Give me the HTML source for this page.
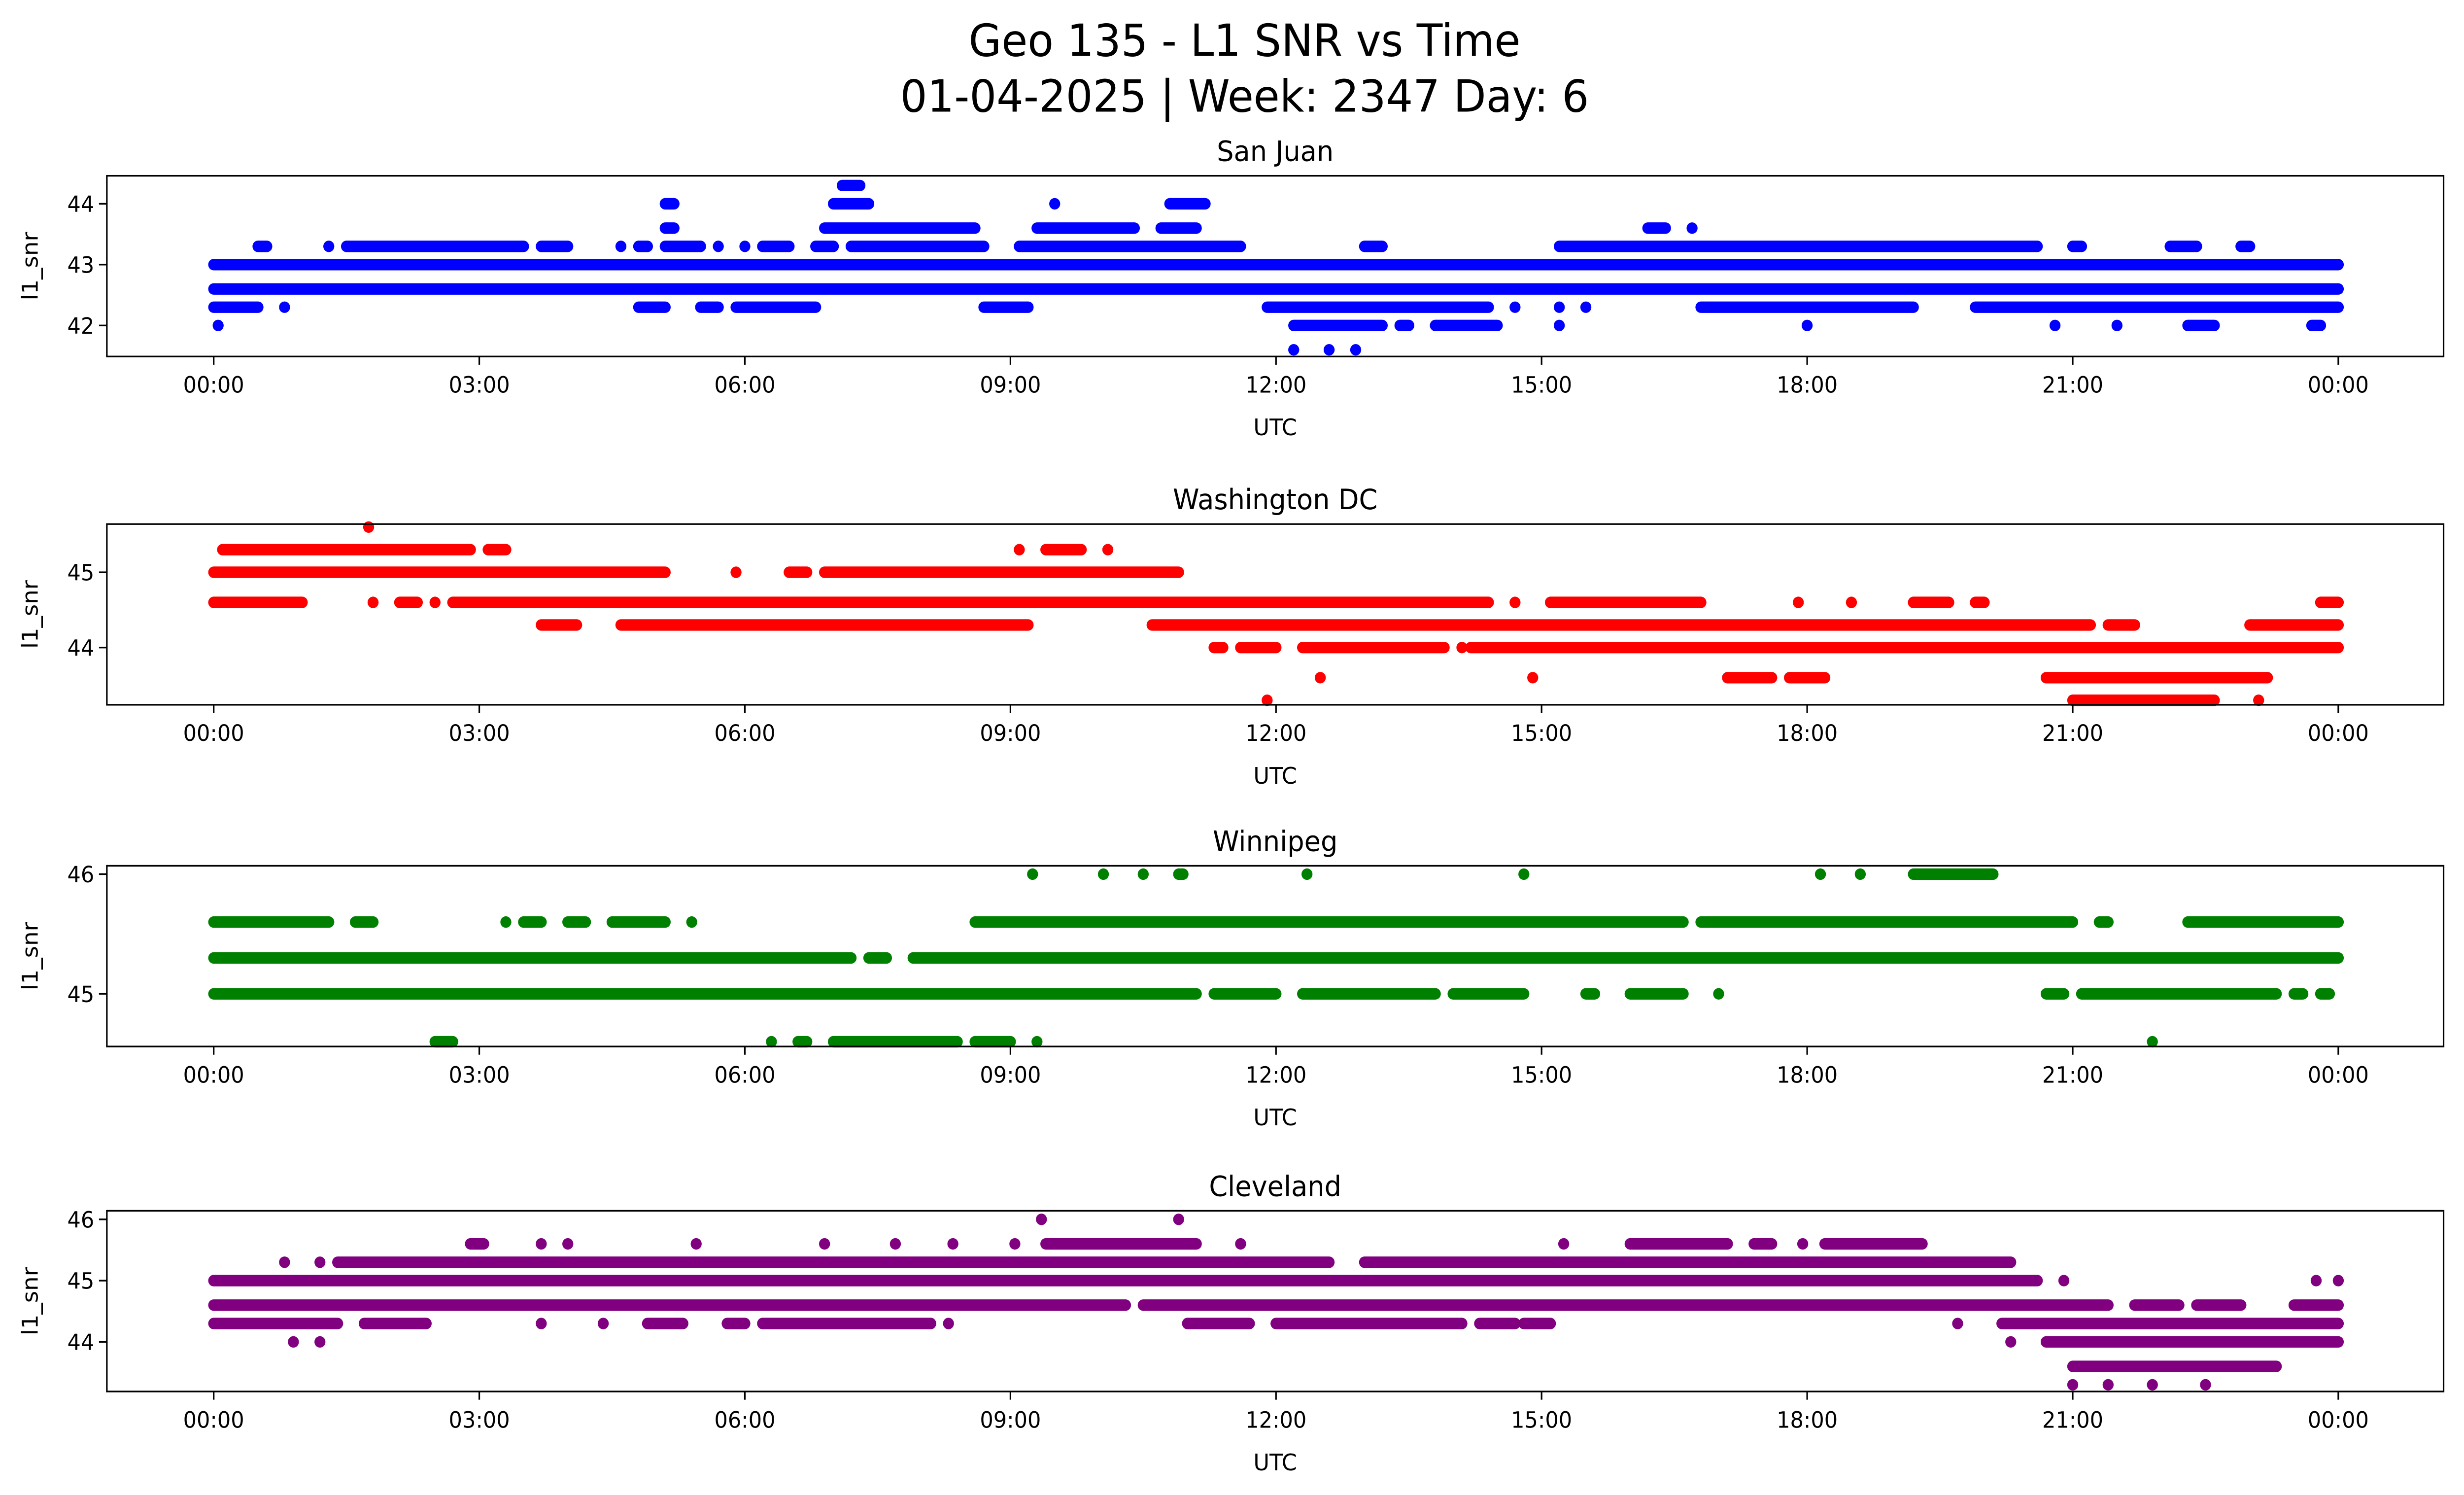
<!DOCTYPE html>
<html><head><meta charset="utf-8">
<style>
html,body{margin:0;padding:0;background:#fff;width:100%;height:100%;overflow:hidden;}
svg{display:block;position:absolute;left:0;top:0;width:100%;height:100%;font-family:"DejaVu Sans","Liberation Sans",sans-serif;}
</style></head>
<body>
<svg id="chart" viewBox="0 0 1568 910" preserveAspectRatio="none" xmlns="http://www.w3.org/2000/svg">
<rect width="1568" height="910" fill="#fff"/>
<text x="792" y="34" text-anchor="middle" font-size="27">Geo 135 - L1 SNR vs Time</text>
<text x="792" y="68" text-anchor="middle" font-size="27">01-04-2025 | Week: 2347 Day: 6</text>
<g id="panels"></g>
</svg>
<script>
// Data: runs of observations [snr, startHourUTC, endHourUTC]
const xTickLabels = ["00:00","03:00","06:00","09:00","12:00","15:00","18:00","21:00","00:00"];
const stations = ["San Juan","Washington DC","Winnipeg","Cleveland"];
const colors = ["#0000ff","#ff0000","#008000","#800080"];
const yTicks1 = [42,43,44];
const yTicks2 = [44,45];
const yTicks3 = [45,46];
const yTicks4 = [44,45,46];
const sanJuan = [
 [42.6,0,24],
 [42.3,0,0.5],[42.3,0.8,0.8],[42.3,4.8,5.1],[42.3,5.5,5.7],[42.3,5.9,6.8],[42.3,8.7,9.2],[42.3,11.9,14.4],[42.3,14.7,14.7],[42.3,15.2,15.2],[42.3,15.5,15.5],[42.3,16.8,19.2],[42.3,19.9,24],
 [42.0,0.05,0.05],[42.0,12.2,13.2],[42.0,13.4,13.5],[42.0,13.8,14.5],[42.0,15.2,15.2],[42.0,18.0,18.0],[42.0,20.8,20.8],[42.0,21.5,21.5],[42.0,22.3,22.6],[42.0,23.7,23.8],
 [41.6,12.2,12.2],[41.6,12.6,12.6],[41.6,12.9,12.9],
 [43.0,0,24],
 [43.3,0.5,0.6],[43.3,1.3,1.3],[43.3,1.5,3.5],[43.3,3.7,4.0],[43.3,4.6,4.6],[43.3,4.8,4.9],[43.3,5.1,5.5],[43.3,5.7,5.7],[43.3,6.0,6.0],[43.3,6.2,6.5],[43.3,6.8,7.0],[43.3,7.2,8.7],[43.3,9.1,11.6],[43.3,15.2,20.6],[43.3,21.0,21.1],[43.3,22.1,22.4],[43.3,22.9,23.0],[43.3,13.0,13.2],
 [43.6,5.1,5.2],[43.6,6.9,8.6],[43.6,9.3,10.4],[43.6,10.7,11.1],[43.6,16.2,16.4],[43.6,16.7,16.7],
 [44.0,5.1,5.2],[44.0,7.0,7.4],[44.0,9.5,9.5],[44.0,10.8,11.2],
 [44.3,7.1,7.3]
];
const washington = [
 [45.3,0.1,2.9],[45.3,3.1,3.3],[45.6,1.75,1.75],[45.3,9.1,9.1],[45.3,9.4,9.8],[45.3,10.1,10.1],
 [45.0,0,5.1],[45.0,5.9,5.9],[45.0,6.5,6.7],[45.0,6.9,10.9],
 [44.6,0,1.0],[44.6,1.8,1.8],[44.6,2.1,2.3],[44.6,2.5,2.5],[44.6,2.7,14.4],[44.6,14.7,14.7],[44.6,15.1,16.8],[44.6,17.9,17.9],[44.6,18.5,18.5],[44.6,19.2,19.6],[44.6,19.9,20.0],[44.6,23.8,24],
 [44.3,3.7,4.1],[44.3,4.6,9.2],[44.3,10.6,21.2],[44.3,21.4,21.7],[44.3,23.0,24],
 [44.0,11.3,11.4],[44.0,11.6,12.0],[44.0,12.3,13.9],[44.0,14.1,14.1],[44.0,14.2,24],
 [43.6,12.5,12.5],[43.6,14.9,14.9],[43.6,17.1,17.6],[43.6,17.8,18.2],[43.6,20.7,23.2],
 [43.3,11.9,11.9],[43.3,21.0,22.6],[43.3,23.1,23.1]
];
const winnipeg = [
 [46.0,9.25,9.25],[46.0,10.05,10.05],[46.0,10.5,10.5],[46.0,10.9,10.95],[46.0,12.35,12.35],[46.0,14.8,14.8],[46.0,18.15,18.15],[46.0,18.6,18.6],[46.0,19.2,20.1],
 [45.6,0,1.3],[45.6,1.6,1.8],[45.6,3.3,3.3],[45.6,3.5,3.7],[45.6,4.0,4.2],[45.6,4.5,5.1],[45.6,5.4,5.4],[45.6,8.6,16.6],[45.6,16.8,21.0],[45.6,21.3,21.4],[45.6,22.3,24],
 [45.3,0,7.2],[45.3,7.4,7.6],[45.3,7.9,24],
 [45.0,0,11.1],[45.0,11.3,12.0],[45.0,12.3,13.8],[45.0,14.0,14.8],[45.0,15.5,15.6],[45.0,16.0,16.6],[45.0,17.0,17.0],[45.0,20.7,20.9],[45.0,21.1,23.3],[45.0,23.5,23.6],[45.0,23.8,23.9],
 [44.6,2.5,2.7],[44.6,6.3,6.3],[44.6,6.6,6.7],[44.6,7.0,8.4],[44.6,8.6,9.0],[44.6,9.3,9.3],[44.6,21.9,21.9]
];
const cleveland = [
 [46.0,9.35,9.35],[46.0,10.9,10.9],
 [45.6,2.9,3.05],[45.6,3.7,3.7],[45.6,4.0,4.0],[45.6,5.45,5.45],[45.6,6.9,6.9],[45.6,7.7,7.7],[45.6,8.35,8.35],[45.6,9.05,9.05],[45.6,9.4,11.1],[45.6,11.6,11.6],[45.6,15.25,15.25],[45.6,16.0,17.1],[45.6,17.4,17.6],[45.6,17.95,17.95],[45.6,18.2,19.3],
 [45.3,0.8,0.8],[45.3,1.2,1.2],[45.3,1.4,12.6],[45.3,13.0,20.3],
 [45.0,0,20.6],[45.0,20.9,20.9],[45.0,23.75,23.75],[45.0,24,24],
 [44.6,0,10.3],[44.6,10.5,21.4],[44.6,21.7,22.2],[44.6,22.4,22.9],[44.6,23.5,24],
 [44.3,0,1.4],[44.3,1.7,2.4],[44.3,3.7,3.7],[44.3,4.4,4.4],[44.3,4.9,5.3],[44.3,5.8,6.0],[44.3,6.2,8.1],[44.3,8.3,8.3],[44.3,11.0,11.7],[44.3,12.0,14.1],[44.3,14.3,14.7],[44.3,14.8,15.1],[44.3,19.7,19.7],[44.3,20.2,24],
 [44.0,0.9,0.9],[44.0,1.2,1.2],[44.0,20.3,20.3],[44.0,20.7,24],
 [43.6,21.0,23.3],
 [43.3,21.0,21.0],[43.3,21.4,21.4],[43.3,21.9,21.9],[43.3,22.5,22.5]
];
const seriesList = [sanJuan, washington, winnipeg, cleveland];
const yTickList = [yTicks1, yTicks2, yTicks3, yTicks4];
const yLims = [[41.49,44.46],[43.24,45.64],[44.56,46.07],[43.19,46.14]];

const NS = "http://www.w3.org/2000/svg";
const root = document.getElementById("panels");
const L = 68, R = 1555, tops = [107,319,527,737], H = 110;
const x0 = 136, x1 = 1488;
function xScale(h){ return x0 + (x1 - x0) * h / 24; }
function mk(tag, attrs, parent){ const e = document.createElementNS(NS, tag); for (const k in attrs) e.setAttribute(k, attrs[k]); parent.appendChild(e); return e; }

stations.forEach((name, i) => {
  const top = tops[i], bot = top + H;
  const [lo, hi] = yLims[i];
  const yScale = v => bot - (v - lo) / (hi - lo) * H;
  const g = mk("g", {}, root);
  
  
  const t = mk("text", {x: (L + R) / 2, y: top - 9, "text-anchor": "middle", "font-size": 17}, g);
  t.textContent = name;
  
  
  const pg = mk("g", {stroke: colors[i], "stroke-width": 7, "stroke-linecap": "round", fill: "none"}, g);
  
  
  let d = "";
  seriesList[i].forEach(r => {
    const y = yScale(r[0]).toFixed(2);
    const xa = xScale(r[1]), xb = Math.max(xScale(r[2]), xa + 0.01);
    d += "M" + xa.toFixed(2) + " " + y + "L" + xb.toFixed(2) + " " + y;
  });
  const p = mk("path", {d: d}, pg);
  
  
  const fr = mk("rect", {x: L, y: top, width: R - L, height: H, fill: "none", stroke: "#000", "stroke-width": 1}, g);
  
  
  xTickLabels.forEach((lab, k) => {
    const x = xScale(k * 3);
    mk("line", {x1: x, x2: x, y1: bot, y2: bot + 5, stroke: "#000", "stroke-width": 1}, g);
    const tx = mk("text", {x: x, y: bot + 22, "text-anchor": "middle", "font-size": 13.5}, g);
    tx.textContent = lab;
    
    
  });
  const xl = mk("text", {x: (L + R) / 2, y: bot + 48, "text-anchor": "middle", "font-size": 14}, g);
  xl.textContent = "UTC";
  
  
  yTickList[i].forEach(v => {
    const y = yScale(v);
    mk("line", {x1: L - 5, x2: L, y1: y, y2: y, stroke: "#000", "stroke-width": 1}, g);
    const ty = mk("text", {x: L - 8, y: y + 5, "text-anchor": "end", "font-size": 13.5}, g);
    ty.textContent = v;
    
    
  });
  const yl = mk("text", {x: 0, y: 0, "text-anchor": "middle", "font-size": 14, transform: "translate(24," + (top + H / 2) + ") rotate(-90)"}, g);
  yl.textContent = "l1_snr";
  
  
});
</script>
</body></html>
